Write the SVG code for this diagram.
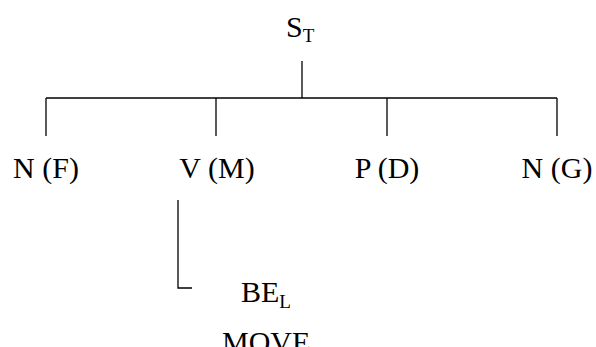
<svg xmlns="http://www.w3.org/2000/svg" width="596" height="347" viewBox="0 0 596 347">
<style>
text{font-family:"Liberation Serif","Times New Roman",serif;font-size:30px;fill:#000}
.c{text-anchor:middle}
.sub{font-size:19px}
line,polyline{stroke:#000;stroke-width:1.3;fill:none}
</style>
<rect width="596" height="347" fill="#fff"/>
<g id="connectors">
<line x1="302" y1="61" x2="302" y2="98"/>
<line x1="46" y1="98" x2="557" y2="98"/>
<line x1="46" y1="98" x2="46" y2="136"/>
<line x1="216" y1="98" x2="216" y2="136"/>
<line x1="387" y1="98" x2="387" y2="136"/>
<line x1="557" y1="98" x2="557" y2="136"/>
<polyline points="178,200 178,288 192,288"/>
</g>
<g id="node-ST"><text x="286" y="37">S<tspan class="sub" dy="5">T</tspan></text></g>
<g id="node-NF"><text class="c" x="46" y="178">N (F)</text></g>
<g id="node-VM"><text class="c" x="217" y="178">V (M)</text></g>
<g id="node-PD"><text class="c" x="387" y="178">P (D)</text></g>
<g id="node-NG"><text class="c" x="557" y="178">N (G)</text></g>
<g id="node-BE"><text x="241" y="302">BE<tspan class="sub" dy="6">L</tspan></text></g>
<g id="node-MOVE"><text x="222" y="352">MOVE</text></g>
</svg>
